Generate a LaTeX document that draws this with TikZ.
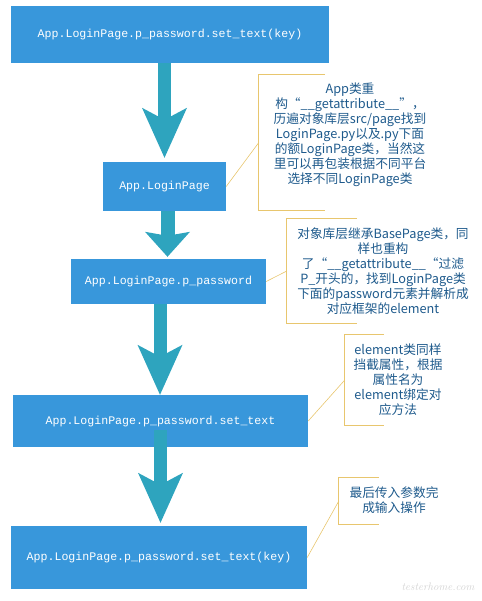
\documentclass[tikz,border=0pt]{standalone}
\usepackage{fontspec}
\setmonofont{Liberation Mono}
\newfontfamily\cjk{Noto Sans CJK SC}
\usepackage{tikz}
\usetikzlibrary{arrows.meta,positioning,calc}
\usepackage{xcolor}
\definecolor{boxblue}{RGB}{56,151,219}
\definecolor{arrowteal}{RGB}{46,164,190}
\definecolor{notegold}{RGB}{232,198,110}
\definecolor{notetext}{RGB}{30,90,140}
\tikzstyle{callbox} = [fill=boxblue, text=white, font=\ttfamily\fontsize{11.6}{14}\selectfont, inner sep=0pt]
\tikzstyle{bigarrow} = [arrowteal, line width=13pt, -{Stealth[length=50pt,width=45pt,inset=12pt,line width=0pt]}]
\tikzstyle{shortarrow} = [arrowteal, line width=14pt, -{Stealth[length=25pt,width=45pt,inset=4pt,line width=0pt]}]
\tikzstyle{bracket} = [notegold, line width=1.2pt]
\tikzstyle{leader} = [notegold, line width=0.6pt]
\tikzstyle{note} = [text=notetext, font=\cjk\fontsize{12.7}{15}\selectfont, align=center, inner sep=0pt]

\begin{document}
\begin{tikzpicture}[x=1pt, y=-1pt]
    \useasboundingbox (0,0) rectangle (481,601);

    % Call chain
    \node[callbox, minimum width=318pt, minimum height=57pt] (call) at (170,34.5) {App.LoginPage.p\_password.set\_text(key)};
    \node[callbox, minimum width=123pt, minimum height=49pt] (page) at (164.5,186.5) {App.LoginPage};
    \node[callbox, minimum width=195pt, minimum height=45pt] (pw) at (168.5,281.5) {App.LoginPage.p\_password};
    \node[callbox, minimum width=295pt, minimum height=52pt] (settext) at (160.5,421) {App.LoginPage.p\_password.set\_text};
    \node[callbox, minimum width=296pt, minimum height=63pt] (setkey) at (159,557.5) {App.LoginPage.p\_password.set\_text(key)};

    % Arrows
    \draw[bigarrow] ([xshift=-5.5pt]call.south) -- ([yshift=4pt]page.north);
    \draw[shortarrow] ([xshift=3pt]page.south) -- ([xshift=-1pt,yshift=2pt]pw.north);
    \draw[bigarrow] ([xshift=-8.5pt]pw.south) -- ([xshift=-0.5pt]settext.north);
    \draw[bigarrow] ([yshift=17pt]settext.south) -- ([xshift=1.5pt,yshift=3pt]setkey.north);

    % Brackets
    \node[minimum width=66pt, minimum height=135pt, inner sep=0pt] (br1) at (292,142.5) {};
    \node[minimum width=70pt, minimum height=104pt, inner sep=0pt] (br2) at (322,271) {};
    \node[minimum width=39pt, minimum height=90pt, inner sep=0pt] (br3) at (364.5,380) {};
    \node[minimum width=40pt, minimum height=46pt, inner sep=0pt] (br4) at (359,501) {};
    \foreach \b in {br1,br2,br3,br4}
        \draw[bracket] (\b.north east) -- (\b.north west) -- (\b.south west) -- (\b.south east);

    % Leaders
    \draw[leader] (page.east) -- (br1.west);
    \draw[leader] (pw.east) -- (br2.west);
    \draw[leader] (settext.east) -- (br3.west);
    \draw[leader] (setkey.east) -- (br4.west);

    % Notes
    \node[note] (note1) at (350,135) {App类重\\构“\_\_getattribute\_\_”，\\历遍对象库层src/page找到\\LoginPage.py以及.py下面\\的额LoginPage类，当然这\\里可以再包装根据不同平台\\选择不同LoginPage类};
    \node[note] (note2) at (383,271.5) {对象库层继承BasePage类，同\\样也重构\\了“\_\_getattribute\_\_“过滤\\P\_开头的，找到LoginPage类\\下面的password元素并解析成\\对应框架的element};
    \node[note] (note3) at (398,379.5) {element类同样\\挡截属性，根据\\属性名为\\element绑定对\\应方法};
    \node[note] (note4) at (394,500.5) {最后传入参数完\\成输入操作};

    % Watermark
    \node[text=gray!35, font=\itshape\fontsize{11}{11}\selectfont] (mark) at (438,587) {testerhome.com};
\end{tikzpicture}
\end{document}
